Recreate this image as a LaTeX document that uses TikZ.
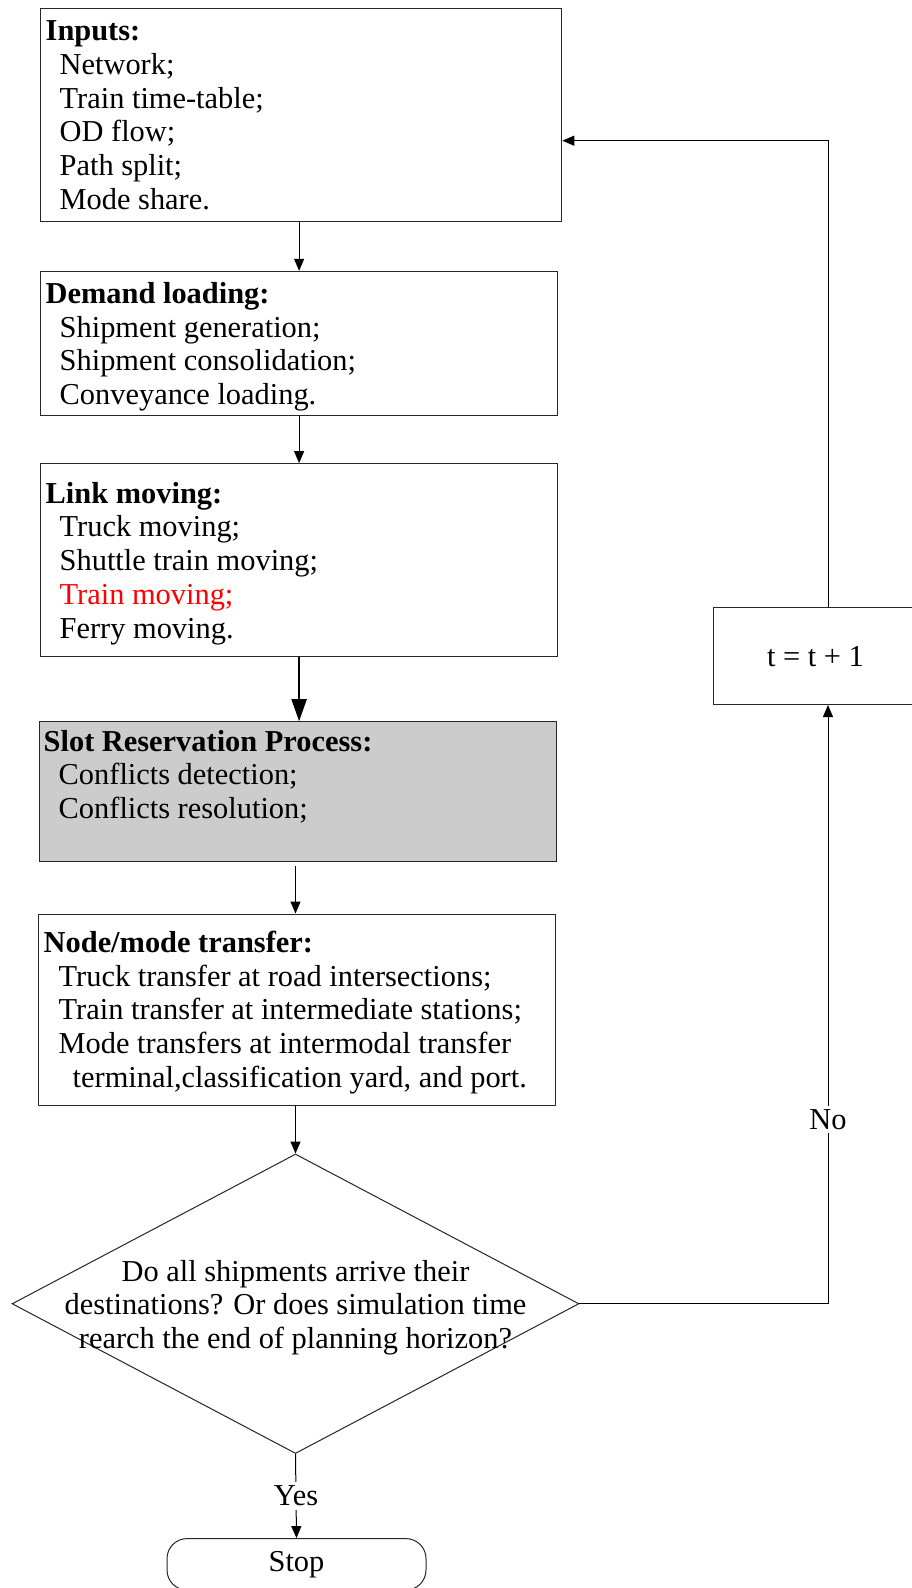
\documentclass[tikz,border=0pt]{standalone}
\usepackage{fontspec}
\setmainfont{Liberation Serif}
\usetikzlibrary{shapes.geometric,arrows.meta}
\begin{document}
\begin{tikzpicture}[x=1pt,y=-1pt,
  txt/.style={font=\fontsize{30.4}{33.8}\selectfont},
  box/.style={draw=black!85, line width=1pt, rectangle, inner sep=0pt},
  boxtext/.style={txt, align=left, inner sep=0pt, anchor=base west},
  arr/.style={draw=black, line width=1pt, -{Triangle[length=12pt,width=10pt]}},
  thickarr/.style={draw=black, line width=2pt, -{Triangle[length=22pt,width=15pt]}},
  lbl/.style={txt, fill=white, inner xsep=2pt, inner ysep=3.5pt}
]
\useasboundingbox[fill=white] (0,0) rectangle (912,1588);

% multi-line text nodes are anchored at the baseline of their last line
\node[box, minimum width=521.3pt, minimum height=213.6pt] (inputs) at (301.15,114.9) {};
\node[boxtext] (inputsT) at (45.5,209.5)
 {\textbf{Inputs:}\\ \hspace*{14pt}Network;\\ \hspace*{14pt}Train time-table;\\ \hspace*{14pt}OD flow;\\ \hspace*{14pt}Path split;\\ \hspace*{14pt}Mode share.};

\node[box, minimum width=517.2pt, minimum height=143.7pt] (demand) at (299.1,343.15) {};
\node[boxtext] (demandT) at (45.5,404.6)
 {\textbf{Demand loading:}\\ \hspace*{14pt}Shipment generation;\\ \hspace*{14pt}Shipment consolidation;\\ \hspace*{14pt}Conveyance loading.};

\node[box, minimum width=517.2pt, minimum height=192.4pt] (link) at (299.1,559.8) {};
\node[boxtext] (linkT) at (45.5,638.2)
 {\textbf{Link moving:}\\ \hspace*{14pt}Truck moving;\\ \hspace*{14pt}Shuttle train moving;\\ \hspace*{14pt}\textcolor[RGB]{255,0,0}{Train moving;}\\ \hspace*{14pt}Ferry moving.};

\node[box, fill={rgb,255:red,204;green,204;blue,204}, minimum width=517.2pt, minimum height=139.7pt] (slot) at (298.1,791.55) {};
\node[boxtext] (slotT) at (43.5,818.6)
 {\textbf{Slot Reservation Process:}\\ \hspace*{15pt}Conflicts detection;\\ \hspace*{15pt}Conflicts resolution;};

\node[box, minimum width=517.2pt, minimum height=191pt] (transfer) at (297.1,1009.5) {};
\node[boxtext] (transferT) at (43.5,1087.4)
 {\textbf{Node/mode transfer:}\\ \hspace*{15pt}Truck transfer at road intersections;\\ \hspace*{15pt}Train transfer at intermediate stations;\\ \hspace*{15pt}Mode transfers at intermodal transfer\\ \hspace*{29pt}terminal,classification yard, and port.};

\node[diamond, draw=black!85, line width=1pt, inner sep=0pt, minimum width=566.9pt, minimum height=299.5pt] (dia) at (295.5,1303.75) {};
\node[txt, align=center, inner sep=0pt, anchor=base] (diatext) at (295.5,1348.6)
 {Do all shipments arrive their\\ destinations? Or does simulation time\\ rearch the end of planning horizon?};

\node[box, minimum width=228.4pt, minimum height=96.7pt] (tbox) at (827.8,656.15) {};
\node[txt, inner sep=0pt] (ttext) at (815.5,656.15) {t = t + 1};

\node[txt, draw=black!85, line width=1pt, rounded corners=20pt, minimum width=259pt, minimum height=51.4pt, inner sep=0pt] (stop) at (296.5,1564.3) {Stop};

\coordinate (lx) at (828,140.7);

\draw[arr] (inputs.south -| demand.north) -- (demand.north);
\draw[arr] (demand.south) -- (link.north);
\draw[thickarr] (link.south) -- (link.south |- slot.north);
\draw[arr, shorten <=4pt] (slot.south -| dia.north) -- (transfer.north -| dia.north);
\draw[arr] (transfer.south -| dia.north) -- (dia.north);
\draw[arr] (dia.south) -- node[lbl] (yes) {Yes} (stop.north);
\draw[arr] (dia.east) -| node[lbl, pos=0.654] (no) {No} (tbox.south -| lx);
\draw[arr] (tbox.north -| lx) -- (lx) -- (inputs.east |- lx);
\end{tikzpicture}
\end{document}
